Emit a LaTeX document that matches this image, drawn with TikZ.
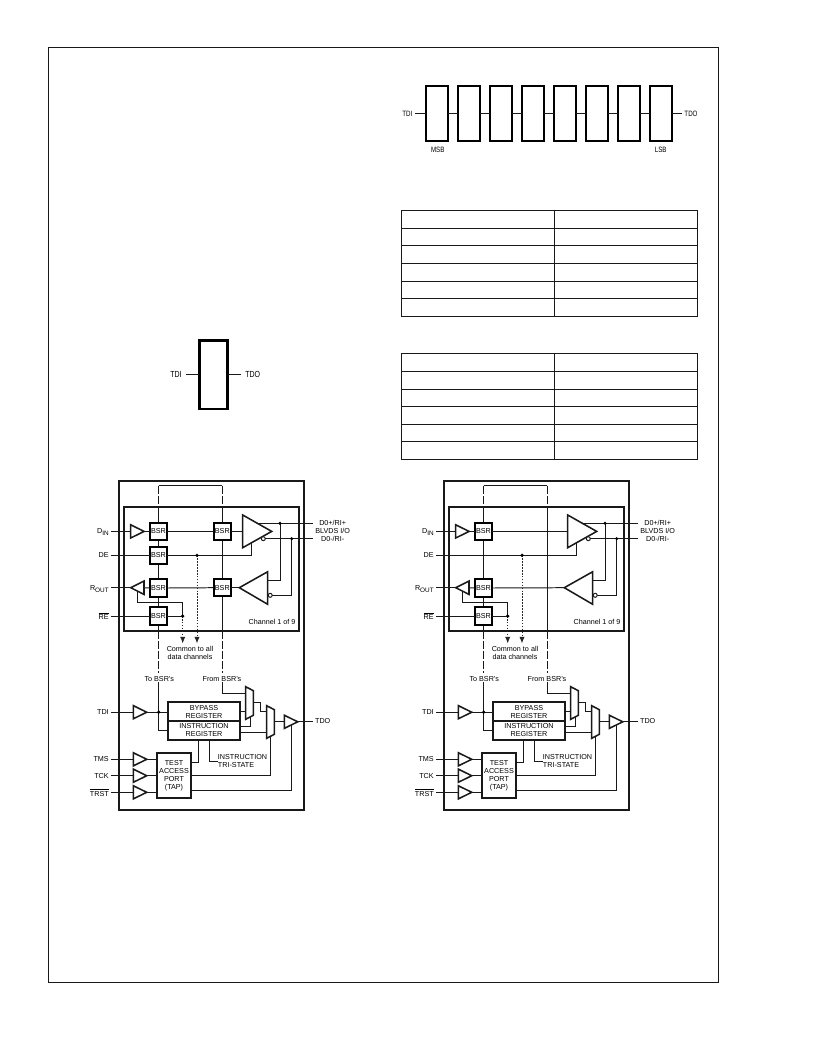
\documentclass[tikz,border=0pt]{standalone}
\usepackage{fontspec}
\setmainfont{Liberation Sans}
\usetikzlibrary{arrows.meta}
\newcommand{\lbl}{\fontsize{5.4}{6}\selectfont}
\newcommand{\condense}[1]{\scalebox{0.8}[1]{#1}}
\newcommand{\bufR}[3]{% name, left x, y
  \draw[thick line,fill=white] (#2,#3-6.6) -- (#2,#3+6.6) -- (#2+13.4,#3) -- cycle;
  \coordinate (#1-in) at (#2,#3);
  \coordinate (#1-out) at (#2+13.4,#3);
}
\newcommand{\muxbox}[2]{% left x, top y
  \draw[thick line,fill=white] (#1,#2) -- (#1+7.6,#2+4) -- (#1+7.6,#2+28.6) -- (#1,#2+32.6) -- cycle;
}
\newcommand{\blockdiagram}[2]{%
\begin{scope}[shift={(#1,0)},name prefix=d#1-]
  \node[panel,minimum width=138.5pt,minimum height=247pt] (outer) at (211.75,645.4) {};
  \node[panel,minimum width=131.2pt,minimum height=93pt] (inner) at (211.8,568.7) {};
  % scan chain
  \coordinate (tl) at (158.7,485.7);
  \coordinate (tr) at (222,485.7);
  \coordinate (il) at (158.7,506.7);
  \coordinate (ir) at (222,506.7);
  \coordinate (bl) at (158.7,630.7);
  \coordinate (br) at (222,630.7);
  \coordinate (ll) at (158.7,673);
  \coordinate (lr) at (222,673);
  \draw[thin line] (tl) -- (tr);
  \draw[thin line,scan dash] (tl) -- (il);
  \draw[thin line,scan dash] (tr) -- (ir);
  \draw[thin line] (il) -- (bl);
  \draw[thin line] (ir) -- (br);
  \draw[thin line,scan dash] (bl) -- (ll);
  \draw[thin line,scan dash] (br) -- (lr);
  % BSR cells
  \node[bsrcell] (bD) at (158.5,531.4) {BSR};
  \node[bsrcell] (bR) at (158.5,588) {BSR};
  \node[bsrcell] (bE) at (158.5,616) {BSR};
  \ifnum#2=1
    \node[bsrcell] (bDE) at (158.5,555.3) {BSR};
    \node[bsrcell] (rD) at (222.3,531.4) {BSR};
    \node[bsrcell] (rR) at (222.3,587.7) {BSR};
  \fi
  % pins, channel section
  \node[pinlabel,anchor=east] (pD) at (109,532) {D\raisebox{-1.6pt}{\fontsize{4.8}{5}\selectfont IN}};
  \node[pinlabel,anchor=east] (pDE) at (109,555.3) {DE};
  \node[pinlabel,anchor=east] (pR) at (109,589) {R\raisebox{-1.6pt}{\fontsize{4.8}{5}\selectfont OUT}};
  \node[pinlabel,anchor=east] (pE) at (109,616) {$\overline{\mbox{RE}}$};
  \coordinate (dinL) at (111,531.4);
  \coordinate (deL) at (111,555.3);
  \coordinate (roL) at (111,587.7);
  \coordinate (reL) at (111,616);
  \bufR{dbuf}{130.7}{531.4}
  \draw[thin line] (dinL) -- (dbuf-in);
  \draw[thin line] (dbuf-out) -- (bD.west);
  % R_OUT buffer (points left)
  \coordinate (rbuf-en) at (137,591.2);
  \coordinate (enC) at (182.7,602);
  \coordinate (jRE) at (182.7,616);
  \draw[thin line] (rbuf-en) |- (enC) -- (jRE);
  \draw[thick line,fill=white] (130.7,587.7) -- (144,581) -- (144,594.4) -- cycle;
  \coordinate (rbuf-tip) at (130.7,587.7);
  \coordinate (rbuf-base) at (144,587.7);
  \draw[thin line] (roL) -- (rbuf-tip);
  \draw[thin line] (rbuf-base) -- (bR.west);
  % driver
  \coordinate (drv-in) at (242.7,531.4);
  \coordinate (drv-en) at (251.3,542.9);
  \coordinate (drv-p) at (258,523.3);
  \coordinate (rcv-out) at (239.3,587.7);
  \coordinate (rcv-p) at (267.7,580);
  \coordinate (rcv-n) at (272.4,595.3);
  \coordinate (pinP) at (312.7,523.3);
  \coordinate (pinN) at (312.7,538.7);
  \coordinate (negS) at (265.3,538.7);
  \coordinate (jP) at (280,523.3);
  \coordinate (jN) at (291.7,538.7);
  \draw[thin line] (drv-p) -- (pinP);
  \draw[thin line] (negS) -- (pinN);
  \draw[thin line] (rcv-p) -| (jP);
  \draw[thin line] (rcv-n) -| (jN);
  \ifnum#2=1
    \draw[thin line] (bD.east) -- (rD.west);
    \draw[thin line] (rD.east) -- (drv-in);
    \draw[thin line] (bR.east) -- (rR.west);
    \draw[thin line] (rR.east) -- (rcv-out);
    \draw[thin line] (deL) -- (bDE.west);
    \draw[thin line] (bDE.east) -| (drv-en);
  \else
    \draw[thin line] (bD.east) -- (drv-in);
    \draw[thin line] (bR.east) -- (rcv-out);
    \draw[thin line] (deL) -| (drv-en);
  \fi
  \draw[thick line,fill=white] (242.7,515) -- (242.7,547.7) -- (271.7,531.4) -- cycle;
  \draw[thick line,fill=white] (239.3,587.7) -- (267.7,571.7) -- (267.7,604.3) -- cycle;
  \draw[thin line,fill=white] (263.3,538.7) circle[radius=2];
  \draw[thin line,fill=white] (270.2,595.3) circle[radius=2];
  \fill (jP) circle[radius=1.7];
  \fill (jN) circle[radius=1.7];
  % enables
  \coordinate (jDE) at (197,555.3);
  \coordinate (aDE) at (197,643.5);
  \coordinate (aRE) at (182.7,643.5);
  \draw[thin line] (reL) -- (bE.west);
  \draw[thin line] (bE.east) -- (jRE);
  \draw[dot line] (jDE) -- (aDE);
  \draw[dot line] (jRE) -- (aRE);
  \fill (jDE) circle[radius=1.8];
  \fill (jRE) circle[radius=1.8];
  \node[txt] (chan) at (272,622.3) {Channel 1 of 9};
  \node[txt] (pos) at (332.7,523.3) {D0+/RI+};
  \node[txt] (blv) at (332.7,531.4) {BLVDS I/O};
  \node[txt] (neg) at (332.7,539.2) {D0-/RI-};
  \node[txt] (com) at (190,649) {Common to all};
  \node[txt] (dat) at (190,656.9) {data channels};
  \node[txt] (tob) at (159.3,678.8) {To BSR's};
  \node[txt] (fromb) at (222,678.8) {From BSR's};
  % JTAG section
  \node[regbox,align=center] (byp) at (204,711.6) {BYPASS\\REGISTER};
  \node[regbox,align=center] (ins) at (204,730.4) {INSTRUCTION\\REGISTER};
  \node[tapbox,align=center] (tap) at (174,775.5) {TEST\\ACCESS\\PORT\\(TAP)};
  \node[pinlabel,anchor=east] (pTDI) at (109,712) {TDI};
  \node[pinlabel,anchor=east] (pTMS) at (109,759.3) {TMS};
  \node[pinlabel,anchor=east] (pTCK) at (109,775.7) {TCK};
  \node[pinlabel,anchor=east] (pTRST) at (109,792.3) {$\overline{\mbox{TRST}}$};
  \node[txt] (pTDO) at (322.7,721.3) {TDO};
  \bufR{tdi}{133.3}{712.2}
  \bufR{tms}{133.3}{759.3}
  \bufR{tck}{133.3}{775.7}
  \bufR{trs}{133.3}{792.3}
  \coordinate (tdiL) at (111,712.2);
  \coordinate (tmsL) at (111,759.3);
  \coordinate (tckL) at (111,775.7);
  \coordinate (trsL) at (111,792.3);
  \draw[thin line] (tdiL) -- (tdi-in);
  \draw[thin line] (tmsL) -- (tms-in);
  \draw[thin line] (tckL) -- (tck-in);
  \draw[thin line] (trsL) -- (trs-in);
  \draw[thin line] (tdi-out) -- (byp.west |- tdi-out);
  \draw[thin line] (tms-out) -- (tap.west |- tms-out);
  \draw[thin line] (tck-out) -- (tap.west |- tck-out);
  \draw[thin line] (trs-out) -- (tap.west |- trs-out);
  \coordinate (jTDI) at (158.7,712.2);
  \coordinate (toS) at (158.7,682);
  \coordinate (toC) at (158.7,730.7);
  \draw[thin line] (toS) -- (toC) -- (ins.west |- toC);
  \fill (jTDI) circle[radius=1.8];
  % muxes
  \coordinate (fromS) at (222,682);
  \coordinate (fromE) at (245.7,693.3);
  \draw[thin line] (fromS) |- (fromE);
  \coordinate (bypM) at (245.7,711.7);
  \coordinate (insM) at (250,717);
  \coordinate (insY) at (240,726.7);
  \coordinate (insZ) at (266.7,732.7);
  \coordinate (m1o) at (253.3,702.7);
  \coordinate (m1c) at (260.7,711.3);
  \coordinate (m2i) at (266.7,711.3);
  \coordinate (m2o) at (274.3,721);
  \coordinate (tdoI) at (284.3,721);
  \draw[thin line] (byp.east |- bypM) -- (bypM);
  \draw[thin line] (ins.east |- insY) -| (insM);
  \draw[thin line] (ins.east |- insZ) -- (insZ);
  \draw[thin line] (m1o) -| (m1c) -- (m2i);
  \draw[thin line] (m2o) -- (tdoI);
  \muxbox{245.7}{686.7}
  \muxbox{266.7}{705.7}
  % TAP outputs
  \coordinate (tapA) at (198.3,762);
  \coordinate (itsA) at (209.3,761.7);
  \coordinate (itsB) at (217.7,761.7);
  \coordinate (tapB) at (270.3,775.7);
  \coordinate (tapBe) at (270.3,736.2);
  \coordinate (tapC) at (291.7,790);
  \coordinate (tapCe) at (291.7,725);
  \draw[thin line] (tap.east |- tapA) -| (ins.south -| tapA);
  \draw[thin line] (ins.south -| itsA) |- (itsB);
  \draw[thin line] (tap.east |- tapB) -| (tapBe);
  \draw[thin line] (tap.east |- tapC) -| (tapCe);
  \bufR{tdo}{284.3}{721.8}
  \coordinate (tdoR) at (312.7,721.8);
  \draw[thin line] (tdo-out) -- (tdoR);
  \node[txt,anchor=west] (its1) at (217.7,757.3) {INSTRUCTION};
  \node[txt,anchor=west] (its2) at (217.7,765.3) {TRI-STATE};
\end{scope}}
\newcommand{\truthgrid}[2]{% top y, inner rows
\begin{scope}[shift={(0,#1)}]
  \draw[tab line] (401.3,0) rectangle (697.7,106);
  \draw[tab line] (554.3,0) -- (554.3,106);
  \foreach \yy in {#2} \draw[tab line] (401.3,\yy) -- (697.7,\yy);
\end{scope}}
\tikzset{
  thin line/.style={line width=0.74pt,draw=black!90},
  thick line/.style={line width=1.15pt,draw=black!90},
  scan dash/.style={dash pattern=on 6pt off 1.6pt},
  dot line/.style={line width=0.74pt,draw=black!85,dash pattern=on 1.2pt off 1.0pt,-{Latex[length=5pt,width=4pt]}},
  tab line/.style={line width=0.74pt,draw=black!90},
  panel/.style={draw=black!90,line width=1.5pt,inner sep=0pt,outer sep=0pt},
  bsrcell/.style={draw=black,line width=1.5pt,fill=white,minimum width=13pt,minimum height=13pt,inner sep=0pt,outer sep=0pt,font=\lbl},
  regbox/.style={draw=black!90,line width=1.5pt,fill=white,minimum width=54pt,minimum height=14.1pt,inner sep=0pt,outer sep=0pt,font=\lbl},
  tapbox/.style={draw=black!90,line width=1.5pt,fill=white,minimum width=25pt,minimum height=33.3pt,inner sep=0pt,outer sep=0pt,font=\lbl},
  pinlabel/.style={inner sep=0pt,font=\lbl},
  txt/.style={inner sep=0pt,font=\lbl},
  regcell/.style={draw=black,line width=1.5pt,fill=white,minimum width=16.5pt,minimum height=41.7pt,inner sep=0pt,outer sep=0pt},
  bigcell/.style={draw=black,line width=2.2pt,fill=white,minimum width=21.3pt,minimum height=51.7pt,inner sep=0pt,outer sep=0pt},
  stroke/.style={inner sep=0pt,font=\fontsize{5.8}{6}\selectfont},
  bigstroke/.style={inner sep=0pt,font=\fontsize{6.6}{7}\selectfont},
}
\begin{document}
\begin{tikzpicture}[x=0.75pt,y=-0.75pt]
\useasboundingbox (0,0) rectangle (816,1056);
\fill[white] (0,0) rectangle (816,1056);
\node[draw=black!90,line width=0.74pt,minimum width=502.5pt,minimum height=701.2pt,inner sep=0pt,outer sep=0pt] (frame) at (383.3,514.8) {};
% register chain
\foreach \i in {0,...,7} {
  \node[regcell] (c\i) at (437.2+31.96*\i,113.5) {};
}
\foreach \i/\j in {0/1,1/2,2/3,3/4,4/5,5/6,6/7} {
  \draw[thin line] (c\i.east) -- (c\j.west);
}
\node[stroke] (ctdi) at (407.3,113.7) {\condense{TDI}};
\node[stroke] (ctdo) at (691,113.7) {\condense{TDO}};
\coordinate (cL) at (415.3,113.5);
\coordinate (cR) at (681.7,113.5);
\draw[thin line] (cL) -- (c0.west);
\draw[thin line] (c7.east) -- (cR);
\node[stroke] (msb) at (437.7,149.7) {\condense{MSB}};
\node[stroke] (lsb) at (660.7,149.7) {\condense{LSB}};
% single cell
\node[bigcell] (one) at (213.5,374.5) {};
\node[bigstroke] (otdi) at (176,374.5) {\condense{TDI}};
\node[bigstroke] (otdo) at (252.7,374.5) {\condense{TDO}};
\coordinate (oL) at (185.7,374.5);
\coordinate (oR) at (241,374.5);
\draw[thin line] (oL) -- (one.west);
\draw[thin line] (one.east) -- (oR);
% tables
\truthgrid{210.3}{18,35,53,71,88}
\truthgrid{353.3}{18,36,53,71,88}
% block diagrams
\blockdiagram{0}{1}
\blockdiagram{325}{0}
\end{tikzpicture}
\end{document}
